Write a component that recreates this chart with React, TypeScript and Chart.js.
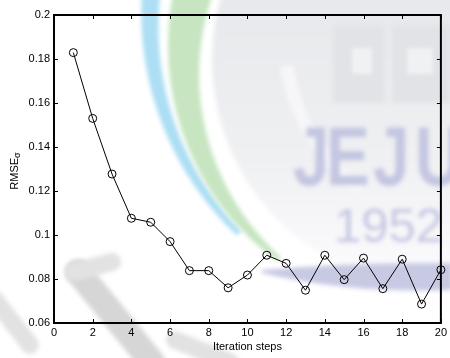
import React, { useEffect, useRef } from "react";
import { Chart, registerables } from "chart.js";

Chart.register(...registerables);

// Iteration index and the RMSE of sigma at each step
const steps = [1, 2, 3, 4, 5, 6, 7, 8, 9, 10, 11, 12, 13, 14, 15, 16, 17, 18, 19, 20];
const rmseSigma = [
  0.1829, 0.153, 0.1277, 0.1076, 0.1058, 0.097, 0.0838, 0.0838, 0.076, 0.0818,
  0.0908, 0.0871, 0.0749, 0.0908, 0.0797, 0.0895, 0.0756, 0.089, 0.0686, 0.0842,
];

const xTicks = [0, 2, 4, 6, 8, 10, 12, 14, 16, 18, 20];
const yTicks = [0.06, 0.08, 0.1, 0.12, 0.14, 0.16, 0.18, 0.2];
const xTitle = "Iteration steps";
const yTitle = "RMSE";
const ySubscript = "σ";

const FONT = "'Liberation Sans', Arial, sans-serif";

type Pt = [number, number];

// Crescent-like band along a circle, width tapering from w0 to w1
function band(
  ctx: CanvasRenderingContext2D,
  cx: number, cy: number, r: number,
  a0: number, a1: number, w0: number, w1: number, color: string
) {
  const n = 60;
  const outer: Pt[] = [];
  const inner: Pt[] = [];
  for (let i = 0; i <= n; i++) {
    const t = i / n;
    const a = a0 + (a1 - a0) * t;
    const w = w0 + (w1 - w0) * t;
    outer.push([cx + Math.cos(a) * (r + w / 2), cy + Math.sin(a) * (r + w / 2)]);
    inner.push([cx + Math.cos(a) * (r - w / 2), cy + Math.sin(a) * (r - w / 2)]);
  }
  ctx.beginPath();
  outer.forEach(([x, y], i) => (i ? ctx.lineTo(x, y) : ctx.moveTo(x, y)));
  for (let i = inner.length - 1; i >= 0; i--) ctx.lineTo(inner[i][0], inner[i][1]);
  ctx.closePath();
  ctx.fillStyle = color;
  ctx.fill();
}

// Faint emblem printed behind the figure
const emblemPlugin = {
  id: "emblem",
  beforeDraw(chart: Chart) {
    const ctx = chart.ctx;
    ctx.save();
    ctx.filter = "blur(2px)";

    // grey disc of the emblem
    const g = ctx.createLinearGradient(0, 0, 0, 260);
    g.addColorStop(0, "rgba(232,233,236,1)");
    g.addColorStop(0.6, "rgba(239,240,242,1)");
    g.addColorStop(1, "rgba(250,250,252,1)");
    ctx.beginPath();
    ctx.arc(440, 60, 228, 0, Math.PI * 2);
    ctx.fillStyle = g;
    ctx.fill();

    // lighter inner ring
    band(ctx, 470, 40, 185, 3.0, 2.2, 14, 10, "rgba(246,246,248,1)");

    // square seal inside the disc
    ctx.fillStyle = "rgba(226,227,231,1)";
    ctx.fillRect(333, 25, 52, 78);
    ctx.fillRect(392, 25, 58, 78);
    ctx.fillStyle = "rgba(240,241,243,1)";
    ctx.fillRect(352, 48, 20, 26);
    ctx.fillRect(407, 48, 26, 26);

    // blue and green rings
    band(ctx, 450, 20, 300, 3.35, 2.35, 20, 6, "rgba(172,222,244,1)");
    band(ctx, 440, 60, 256, 3.45, 2.25, 40, 5, "rgba(198,229,192,1)");

    // lavender sweep under the year
    ctx.beginPath();
    ctx.moveTo(262, 270);
    ctx.quadraticCurveTo(350, 262, 452, 263);
    ctx.lineTo(452, 290);
    ctx.quadraticCurveTo(350, 294, 262, 273);
    ctx.closePath();
    ctx.fillStyle = "rgba(200,202,228,1)";
    ctx.fill();

    // lettering
    ctx.fillStyle = "rgba(196,198,226,1)";
    ctx.textBaseline = "alphabetic";
    const letters: [string, number][] = [["J", 293], ["E", 326], ["J", 373], ["U", 415]];
    letters.forEach(([ch, x]) => {
      ctx.save();
      ctx.translate(x, 185);
      ctx.scale(0.78, 1);
      ctx.font = `bold 84px ${FONT}`;
      ctx.fillText(ch, 0, 0);
      ctx.restore();
    });
    ctx.font = `49px ${FONT}`;
    ctx.fillText("1952", 334, 242);

    // grey strokes at lower left
    ctx.strokeStyle = "rgba(214,214,214,1)";
    ctx.lineCap = "round";
    ctx.lineWidth = 26;
    ctx.beginPath();
    ctx.moveTo(78, 272);
    ctx.lineTo(152, 362);
    ctx.stroke();
    ctx.lineWidth = 18;
    ctx.strokeStyle = "rgba(226,226,226,1)";
    ctx.beginPath();
    ctx.moveTo(74, 272);
    ctx.lineTo(112, 262);
    ctx.stroke();
    ctx.beginPath();
    ctx.moveTo(-5, 300);
    ctx.lineTo(30, 345);
    ctx.stroke();
    ctx.beginPath();
    ctx.moveTo(175, 340);
    ctx.lineTo(230, 362);
    ctx.stroke();
    ctx.restore();
  },
};

// Box frame with inward ticks on all four sides
const framePlugin = {
  id: "frame",
  afterDatasetsDraw(chart: Chart) {
    const { ctx, chartArea: a } = chart;
    const xs = chart.scales.x;
    const ys = chart.scales.y;
    const len = 4;
    ctx.save();
    ctx.strokeStyle = "#000";
    ctx.lineWidth = 1;
    ctx.beginPath();
    xTicks.forEach((v) => {
      const px = Math.round(xs.getPixelForValue(v)) + 0.5;
      ctx.moveTo(px, a.bottom);
      ctx.lineTo(px, a.bottom - len);
      ctx.moveTo(px, a.top);
      ctx.lineTo(px, a.top + len);
    });
    yTicks.forEach((v) => {
      const py = Math.round(ys.getPixelForValue(v)) + 0.5;
      ctx.moveTo(a.left, py);
      ctx.lineTo(a.left + len, py);
      ctx.moveTo(a.right, py);
      ctx.lineTo(a.right - len, py);
    });
    ctx.stroke();
    ctx.lineWidth = 2;
    ctx.strokeRect(a.left, a.top, a.right - a.left, a.bottom - a.top);
    ctx.restore();
  },
};

// Rotated y-axis title with a subscript sigma
const yTitlePlugin = {
  id: "yTitle",
  afterDraw(chart: Chart) {
    const { ctx, chartArea: a } = chart;
    ctx.save();
    ctx.fillStyle = "#000";
    ctx.textBaseline = "alphabetic";
    const mainFont = `11px ${FONT}`;
    const subFont = `9px ${FONT}`;
    ctx.font = mainFont;
    const w1 = ctx.measureText(yTitle).width;
    ctx.font = subFont;
    const w2 = ctx.measureText(ySubscript).width;
    const total = w1 + w2;
    const cy = (a.top + a.bottom) / 2 + 2;
    ctx.translate(18, cy + total / 2);
    ctx.rotate(-Math.PI / 2);
    ctx.font = mainFont;
    ctx.fillText(yTitle, 0, 0);
    ctx.font = subFont;
    ctx.fillText(ySubscript, w1, 2);
    ctx.restore();
  },
};

function fmt(v: number) {
  return String(Number(v.toFixed(2)));
}

export default function App() {
  const ref = useRef<HTMLCanvasElement | null>(null);

  useEffect(() => {
    if (!ref.current) return;
    const chart = new Chart(ref.current, {
      type: "line",
      data: {
        datasets: [
          {
            data: steps.map((s, i) => ({ x: s, y: rmseSigma[i] })),
            borderColor: "#000",
            borderWidth: 1,
            pointStyle: "circle",
            pointRadius: 4,
            pointBorderWidth: 1,
            pointBorderColor: "#000",
            pointBackgroundColor: "rgba(0,0,0,0)",
            tension: 0,
            fill: false,
            clip: false as any,
          },
        ],
      },
      options: {
        animation: false,
        responsive: true,
        maintainAspectRatio: false,
        events: [],
        layout: { padding: { top: 15, right: 7, left: 0, bottom: 0 } },
        plugins: {
          legend: { display: false },
          tooltip: { enabled: false },
        },
        scales: {
          x: {
            type: "linear",
            min: 0,
            max: 20,
            afterBuildTicks: (s: any) => {
              s.ticks = xTicks.map((v) => ({ value: v }));
            },
            afterFit: (s: any) => {
              s.height = 35;
            },
            grid: { display: false, drawTicks: false },
            border: { display: false },
            ticks: {
              color: "#000",
              font: { family: FONT, size: 11 },
              padding: 3,
              maxRotation: 0,
              autoSkip: false,
              callback: (v: any) => String(v),
            },
            title: {
              display: true,
              text: xTitle,
              color: "#000",
              font: { family: FONT, size: 11 },
              padding: { top: 0, bottom: 4 },
            },
          },
          y: {
            type: "linear",
            min: 0.06,
            max: 0.2,
            afterBuildTicks: (s: any) => {
              s.ticks = yTicks.map((v) => ({ value: v }));
            },
            afterFit: (s: any) => {
              s.width = 54;
            },
            grid: { display: false, drawTicks: false },
            border: { display: false },
            ticks: {
              color: "#000",
              font: { family: FONT, size: 11 },
              padding: 4,
              autoSkip: false,
              callback: (v: any) => fmt(Number(v)),
            },
          },
        },
      },
      plugins: [emblemPlugin, framePlugin, yTitlePlugin],
    });
    return () => chart.destroy();
  }, []);

  return (
    <div style={{ position: "fixed", left: 0, top: 0, width: 450, height: 358, background: "#fff" }}>
      <canvas ref={ref} width={450} height={358} />
    </div>
  );
}
